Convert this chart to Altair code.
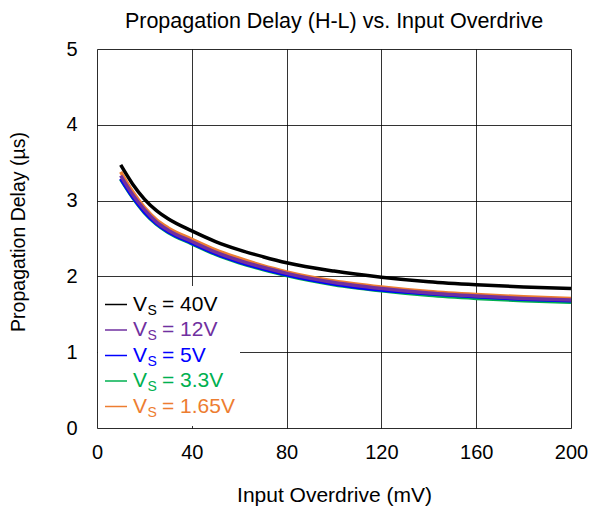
import altair as alt
import pandas as pd

overdrive = [10, 15, 20, 25, 30, 40, 50, 60, 70, 80, 100, 120, 140, 160, 180, 200]
d_40v   = [3.47, 3.22, 3.02, 2.87, 2.76, 2.60, 2.46, 2.35, 2.26, 2.18, 2.07, 1.99, 1.93, 1.89, 1.86, 1.84]
d_12v   = [3.33, 3.08, 2.88, 2.72, 2.61, 2.46, 2.32, 2.21, 2.12, 2.04, 1.92, 1.84, 1.78, 1.74, 1.71, 1.69]
d_5v    = [3.29, 3.05, 2.85, 2.70, 2.59, 2.44, 2.30, 2.19, 2.10, 2.02, 1.90, 1.82, 1.77, 1.73, 1.70, 1.68]
d_3v3   = [3.28, 3.04, 2.84, 2.69, 2.58, 2.43, 2.29, 2.18, 2.09, 2.01, 1.89, 1.81, 1.75, 1.71, 1.68, 1.66]
d_1v65  = [3.38, 3.12, 2.91, 2.75, 2.64, 2.49, 2.35, 2.24, 2.14, 2.06, 1.94, 1.86, 1.80, 1.76, 1.73, 1.71]

series_names = ["40V", "12V", "5V", "3.3V", "1.65V"]
series_colors = ["#000000", "#7030A0", "#0000FF", "#00B050", "#ED7D31"]
series_values = [d_40v, d_12v, d_5v, d_3v3, d_1v65]
draw_order = ["3.3V", "5V", "1.65V", "12V", "40V"]

x_ticks = [0, 40, 80, 120, 160, 200]
y_ticks = [0, 1, 2, 3, 4, 5]

FONT = "Liberation Sans"
W, H = 474, 379

rows = []
for name, vals in zip(series_names, series_values):
    for xv, yv in zip(overdrive, vals):
        rows.append({"x": xv, "y": yv, "series": name})
df = pd.DataFrame(rows)

xs = alt.Scale(domain=[0, 200], nice=False)
ys = alt.Scale(domain=[0, 5], nice=False)
color = alt.Color("series:N", scale=alt.Scale(domain=series_names, range=series_colors), legend=None)

base_axes = alt.Chart(df).mark_line(opacity=0).encode(
    x=alt.X("x:Q", scale=xs, title="Input Overdrive (mV)",
            axis=alt.Axis(values=x_ticks, grid=True, gridColor="#000000", gridWidth=1,
                          gridOpacity=0.8, ticks=False, domain=False, labelFontSize=20,
                          labelFont=FONT, labelColor="#000000", labelPadding=14,
                          labelFlush=False, labelOverlap=False, format="d",
                          titleFont=FONT, titleFontSize=21, titleFontWeight="normal",
                          titleColor="#000000", titlePadding=22)),
    y=alt.Y("y:Q", scale=ys, title="Propagation Delay (µs)",
            axis=alt.Axis(values=y_ticks, grid=True, gridColor="#000000", gridWidth=1,
                          gridOpacity=0.8, ticks=False, domain=False, labelFontSize=20,
                          labelFont=FONT, labelColor="#000000", labelPadding=20,
                          labelFlush=False, labelOverlap=False, format="d",
                          titleFont=FONT, titleFontSize=19.5, titleFontWeight="normal",
                          titleColor="#000000", titlePadding=37, titleY=182.5)),
)

line_layers = []
for name in draw_order:
    line_layers.append(
        alt.Chart(df).transform_filter(alt.datum.series == name)
        .mark_line(strokeWidth=3.5, interpolate="monotone").encode(
            x=alt.X("x:Q", scale=xs),
            y=alt.Y("y:Q", scale=ys),
            color=color,
        )
    )

# legend
leg_top = 255.5
leg_step = 25.5
leg = pd.DataFrame({
    "series": series_names,
    "label": ["= " + s for s in series_names],
    "ypx": [leg_top + i * leg_step for i in range(len(series_names))],
})

leg_bg = alt.Chart(pd.DataFrame({"a": [0]})).mark_rect(color="white").encode(
    x=alt.value(1), x2=alt.value(143), y=alt.value(237), y2=alt.value(377))

leg_line = alt.Chart(leg).mark_rule(strokeWidth=1.5).encode(
    x=alt.value(8), x2=alt.value(30), y=alt.Y("ypx:Q", scale=None), color=color)
leg_v = alt.Chart(leg).mark_text(text="V", align="left", baseline="middle", fontSize=21,
                                 font=FONT).encode(
    x=alt.value(36), y=alt.Y("ypx:Q", scale=None), color=color)
leg_s = alt.Chart(leg).mark_text(text="S", align="left", baseline="middle", fontSize=14,
                                 font=FONT, dy=6).encode(
    x=alt.value(50.5), y=alt.Y("ypx:Q", scale=None), color=color)
leg_t = alt.Chart(leg).mark_text(align="left", baseline="middle", fontSize=21,
                                 font=FONT).encode(
    x=alt.value(65), y=alt.Y("ypx:Q", scale=None), text="label:N", color=color)

chart = alt.layer(base_axes, *line_layers, leg_bg, leg_line, leg_v, leg_s, leg_t).properties(
    width=W, height=H,
    title=alt.TitleParams("Propagation Delay (H-L) vs. Input Overdrive", font=FONT,
                          fontSize=21.5, fontWeight="normal", color="#000000",
                          anchor="middle", offset=7),
    autosize=alt.AutoSizeParams(type="none"),
    padding={"left": 89, "top": 41, "right": 19, "bottom": 80},
).configure_view(stroke="#000000", strokeWidth=2.5).configure(background="white")

chart.save("out.html", embed_options={"renderer": "svg", "actions": False})
